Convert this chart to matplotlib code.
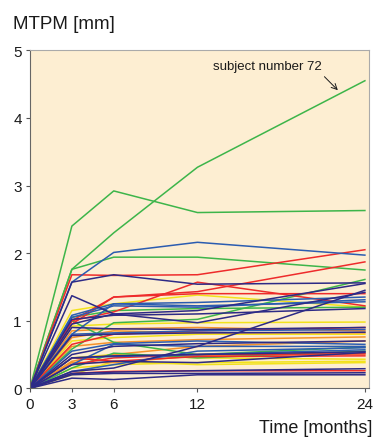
import numpy as np
import matplotlib.pyplot as plt

plt.rcParams['font.family'] = ['Liberation Sans', 'DejaVu Sans']

months = [0, 3, 6, 12, 24]

# MTPM (mm) at 3, 6, 12 and 24 months; every subject starts at 0
green = [
    [1.76, 2.30, 3.27, 4.55],
    [2.40, 2.92, 2.60, 2.63],
    [1.76, 1.94, 1.94, 1.75],
    [0.58, 0.97, 1.02, 1.61],
    [1.00, 0.68, 0.50, 0.61],
    [0.30, 0.52, 0.45, 0.55],
    [1.05, 1.15, 1.18, 1.20],
]
blue = [
    [1.57, 2.01, 2.16, 1.97],
    [1.08, 1.25, 1.27, 1.35],
    [1.05, 1.22, 1.20, 1.31],
    [0.80, 1.25, 1.22, 1.28],
    [0.80, 0.82, 0.85, 0.87],
    [0.55, 0.66, 0.70, 0.65],
    [0.45, 0.47, 0.50, 0.57],
    [0.25, 0.35, 0.55, 0.60],
    [0.35, 0.65, 0.62, 0.62],
]
navy = [
    [1.57, 1.68, 1.54, 1.56],
    [1.37, 1.10, 0.97, 1.42],
    [0.25, 0.30, 0.62, 1.45],
    [0.95, 1.10, 1.15, 1.55],
    [1.02, 1.08, 1.10, 1.18],
    [0.90, 0.88, 0.87, 0.90],
    [0.78, 0.80, 0.82, 0.83],
    [0.50, 0.62, 0.66, 0.70],
    [0.45, 0.48, 0.50, 0.54],
    [0.35, 0.40, 0.38, 0.53],
    [0.22, 0.24, 0.26, 0.29],
    [0.20, 0.22, 0.22, 0.23],
    [0.15, 0.13, 0.20, 0.20],
]
red = [
    [1.68, 1.67, 1.68, 2.05],
    [1.00, 1.35, 1.43, 1.87],
    [1.00, 1.13, 1.57, 1.22],
    [0.95, 1.35, 1.40, 1.40],
    [0.65, 0.80, 0.85, 0.90],
    [0.45, 0.40, 0.47, 0.48],
    [0.35, 0.45, 0.50, 0.51],
    [0.22, 0.25, 0.26, 0.26],
]
yellow = [
    [1.15, 1.25, 1.38, 1.20],
    [0.92, 0.95, 0.97, 0.98],
    [0.70, 0.75, 0.80, 0.80],
    [0.45, 0.50, 0.45, 0.43],
    [0.30, 0.35, 0.38, 0.40],
    [0.20, 0.40, 0.35, 0.38],
]
orange = [
    [0.85, 0.88, 0.90, 0.85],
    [0.75, 0.85, 0.82, 0.82],
    [0.62, 0.68, 0.72, 0.76],
    [0.40, 0.50, 0.62, 0.70],
    [0.38, 0.38, 0.48, 0.51],
]

groups = [
    (yellow, '#f2e21c'),
    (orange, '#f5922a'),
    (green, '#3db54a'),
    (red, '#ee2b2b'),
    (blue, '#2b5cb0'),
    (navy, '#2d2a86'),
]

fig = plt.figure(figsize=(3.77, 4.39), dpi=100)
ax = fig.add_axes([0.0796, 0.1132, 0.8994, 0.7699])
ax.set_facecolor('#fdeed2')

for series, color in groups:
    for vals in series:
        ax.plot(months, [0] + vals, color=color, lw=1.1)

ax.set_xlim(0, 24.3)
ax.set_ylim(0, 5)
ax.set_xticks([0, 3, 6, 12, 24])
ax.set_yticks([0, 1, 2, 3, 4, 5])
ax.tick_params(direction='out', length=3, width=0.8, color='#555555',
               labelsize=11, labelcolor='#1a1a1a', pad=3)
for side in ['left', 'bottom']:
    ax.spines[side].set_color('#666666')
for side in ['top', 'right']:
    ax.spines[side].set_color('#aaaaaa')

# label for the highest curve, with a short arrow pointing at it
ax.text(17.0, 4.77, 'subject number 72', ha='center', va='center',
        fontsize=9.5, color='#1a1a1a')
ax.annotate('', xy=(22.06, 4.41), xytext=(21.1, 4.61),
            arrowprops=dict(arrowstyle='->', color='#1a1a1a', lw=0.7,
                            shrinkA=0, shrinkB=0))

fig.text(0.034, 0.945, 'MTPM [mm]', fontsize=13.5, color='#1a1a1a',
         ha='left', va='center')
fig.text(0.987, 0.025, 'Time [months]', fontsize=13, color='#1a1a1a',
         ha='right', va='center')

fig.savefig('out.png', dpi=100)
